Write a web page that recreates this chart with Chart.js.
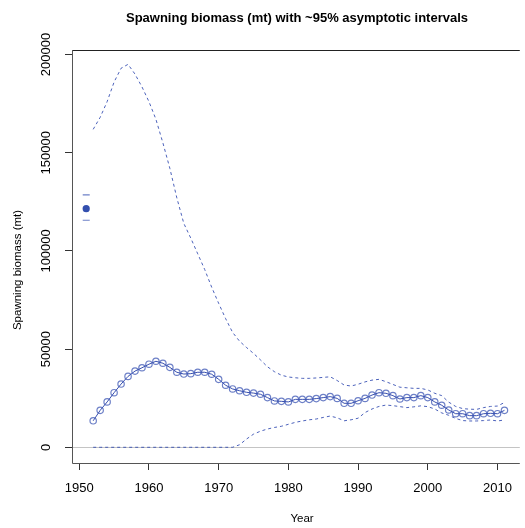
<!DOCTYPE html>
<html>
<head>
<meta charset="utf-8">
<script src="https://cdn.jsdelivr.net/npm/chart.js@4/dist/chart.umd.min.js"></script>
<style>
  html, body { margin: 0; padding: 0; background: #ffffff; }
  #wrap { width: 525px; height: 528px; }
</style>
</head>
<body>
<div id="wrap"><canvas id="c" width="525" height="528"></canvas></div>
<script>
// Model years for the spawning-biomass time series
const years = [1952, 1953, 1954, 1955, 1956, 1957, 1958, 1959, 1960, 1961,
               1962, 1963, 1964, 1965, 1966, 1967, 1968, 1969, 1970, 1971,
               1972, 1973, 1974, 1975, 1976, 1977, 1978, 1979, 1980, 1981,
               1982, 1983, 1984, 1985, 1986, 1987, 1988, 1989, 1990, 1991,
               1992, 1993, 1994, 1995, 1996, 1997, 1998, 1999, 2000, 2001,
               2002, 2003, 2004, 2005, 2006, 2007, 2008, 2009, 2010, 2011];

// Spawning biomass estimate (mt)
const spawnBio = [13500, 18800, 23100, 27800, 32200, 36100, 38800, 40500, 42300, 43800,
                  42800, 40700, 38200, 37300, 37500, 38200, 38200, 37200, 34600, 31600,
                  29700, 28800, 28000, 27600, 27000, 25300, 23600, 23400, 23100, 24400,
                  24400, 24400, 24800, 25300, 25800, 24900, 22400, 22400, 23700, 24900,
                  26600, 27800, 27500, 26300, 24600, 25300, 25300, 26300, 25300, 23100,
                  21400, 19000, 17100, 17100, 16100, 16100, 17100, 17300, 17100, 18800];

// Upper ~95% asymptotic interval (mt)
const upperCI = [161900, 168000, 176000, 186000, 193000, 195000, 190000, 183500, 176000, 167000,
                 155000, 142000, 127000, 114000, 106500, 98500, 90500, 81500, 73300, 65500,
                 58500, 54000, 50800, 47800, 44500, 41000, 38500, 36700, 35800, 35400,
                 35100, 35100, 35300, 35600, 35900, 34000, 31700, 31200, 32100, 33300,
                 34200, 34600, 33400, 32000, 30600, 30300, 30000, 30000, 29200, 27500,
                 26300, 23000, 20800, 19700, 19400, 19300, 20200, 20800, 21000, 22800];

// Lower ~95% asymptotic interval (mt)
const lowerCI = [0, 0, 0, 0, 0, 0, 0, 0, 0, 0,
                 0, 0, 0, 0, 0, 0, 0, 0, 0, 0,
                 0, 1300, 4200, 6700, 8200, 9300, 10100, 10700, 11700, 12700,
                 13400, 14000, 14400, 15200, 15900, 15000, 13500, 14000, 14800, 17700,
                 19500, 20800, 21500, 21200, 20700, 20200, 20600, 21100, 20700, 19500,
                 17500, 16300, 14700, 13600, 13400, 13400, 13600, 13900, 13400, 13900];

// Unfished (virgin) spawning biomass with its interval
const virginYear = [1951];
const virginBio = [121500];
const virginUpper = [128500];
const virginLower = [115600];

// Axis tick labels
const xTicks = [1950, 1960, 1970, 1980, 1990, 2000, 2010];
const yTicks = [0, 50000, 100000, 150000, 200000];

const BLUE_LINE = 'rgba(45, 70, 170, 0.95)';
const BLUE_PT = 'rgba(60, 85, 180, 0.75)';
const BLUE_DASH = 'rgba(45, 70, 175, 0.85)';
const FONT = '"Liberation Sans", Arial, Helvetica, sans-serif';

const pts = (xs, ys) => xs.map((x, i) => ({ x: x, y: ys[i] }));

// Box, zero reference line and all text labels
const decorations = {
  id: 'decorations',
  beforeDatasetsDraw(chart) {
    const { ctx, chartArea: a, scales } = chart;
    const y0 = Math.round(scales.y.getPixelForValue(0)) + 0.5;
    ctx.save();
    ctx.strokeStyle = '#c4c4c4';
    ctx.lineWidth = 1;
    ctx.beginPath();
    ctx.moveTo(a.left, y0);
    ctx.lineTo(a.right, y0);
    ctx.stroke();
    ctx.restore();
  },
  afterDraw(chart) {
    const { ctx, chartArea: a, scales } = chart;
    ctx.save();
    // plot frame
    ctx.lineWidth = 1;
    ctx.strokeStyle = '#222';
    ctx.beginPath();
    ctx.moveTo(a.left, a.top + 0.5);
    ctx.lineTo(a.right, a.top + 0.5);
    ctx.stroke();
    ctx.strokeStyle = '#555';
    ctx.beginPath();
    ctx.moveTo(a.left + 0.5, a.top);
    ctx.lineTo(a.left + 0.5, a.bottom + 0.5);
    ctx.lineTo(a.right, a.bottom + 0.5);
    ctx.stroke();

    ctx.fillStyle = '#000';
    // x tick labels
    ctx.font = '13px ' + FONT;
    ctx.textAlign = 'center';
    ctx.textBaseline = 'middle';
    scales.x.ticks.forEach(t => {
      ctx.fillText(String(t.value), scales.x.getPixelForValue(t.value), 488);
    });
    // y tick labels, rotated
    scales.y.ticks.forEach(t => {
      const py = scales.y.getPixelForValue(t.value);
      ctx.save();
      ctx.translate(46, py);
      ctx.rotate(-Math.PI / 2);
      ctx.fillText(String(t.value), 0, 0);
      ctx.restore();
    });
    // title
    ctx.font = 'bold 13px ' + FONT;
    ctx.fillText('Spawning biomass (mt) with ~95% asymptotic intervals', 297, 18);
    // axis titles
    ctx.font = '11.5px ' + FONT;
    ctx.fillText('Year', 302, 519);
    ctx.save();
    ctx.translate(18, 270);
    ctx.rotate(-Math.PI / 2);
    ctx.fillText('Spawning biomass (mt)', 0, 0);
    ctx.restore();
    ctx.restore();
  }
};

new Chart(document.getElementById('c'), {
  type: 'scatter',
  data: {
    datasets: [
      {
        data: pts(years, upperCI),
        showLine: true,
        borderColor: BLUE_DASH,
        borderWidth: 1,
        borderDash: [3, 3],
        pointRadius: 0,
        tension: 0
      },
      {
        data: pts(years, lowerCI),
        showLine: true,
        borderColor: BLUE_DASH,
        borderWidth: 1,
        borderDash: [3, 3],
        pointRadius: 0,
        tension: 0
      },
      {
        data: pts(years, spawnBio),
        showLine: true,
        borderColor: BLUE_LINE,
        borderWidth: 1,
        pointRadius: 3.2,
        pointBorderWidth: 1.2,
        pointBorderColor: BLUE_PT,
        pointBackgroundColor: 'rgba(0,0,0,0)',
        tension: 0
      },
      {
        data: pts(virginYear, virginBio),
        pointRadius: 3.6,
        pointBorderWidth: 0,
        pointBackgroundColor: 'rgba(40, 70, 170, 0.95)'
      },
      {
        data: pts(virginYear, virginUpper).concat(pts(virginYear, virginLower)),
        pointStyle: 'line',
        pointRadius: 3.5,
        pointBorderWidth: 1.2,
        pointBorderColor: BLUE_PT
      }
    ]
  },
  options: {
    responsive: false,
    animation: false,
    events: [],
    layout: { padding: { top: 50, left: 0, right: 0, bottom: 0 } },
    plugins: {
      legend: { display: false },
      tooltip: { enabled: false },
      title: { display: false }
    },
    scales: {
      x: {
        type: 'linear',
        min: 1948.96,
        max: 2013.2,
        afterBuildTicks: s => { s.ticks = xTicks.map(v => ({ value: v })); },
        afterFit: s => { s.height = 65; },
        ticks: { display: false },
        border: { display: false },
        grid: { display: true, drawOnChartArea: false, drawTicks: true, tickLength: 7, color: '#333' }
      },
      y: {
        type: 'linear',
        min: -8000,
        max: 202300,
        afterBuildTicks: s => { s.ticks = yTicks.map(v => ({ value: v })); },
        afterFit: s => { s.width = 72; },
        ticks: { display: false },
        border: { display: false },
        grid: { display: true, drawOnChartArea: false, drawTicks: true, tickLength: 7, color: '#333' }
      }
    }
  },
  plugins: [decorations]
});
</script>
</body>
</html>
